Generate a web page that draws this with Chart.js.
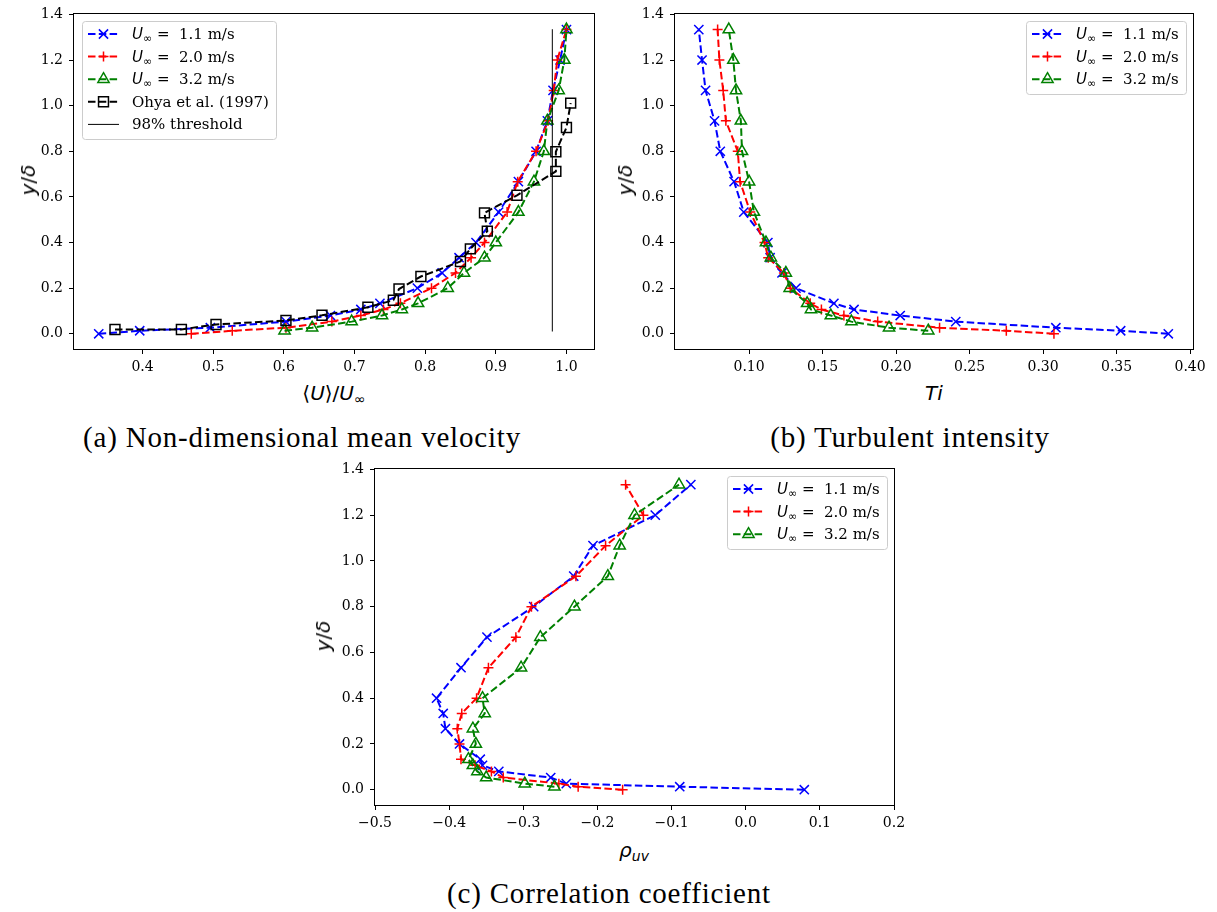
<!DOCTYPE html>
<html>
<head>
<meta charset="utf-8">
<script src="https://cdn.jsdelivr.net/npm/chart.js@4.4.0/dist/chart.umd.min.js"></script>
<style>
  body { margin: 0; background: #fff; }
  #fig { position: relative; width: 1217px; height: 912px; overflow: hidden; background: #fff; }
  canvas { position: absolute; }
  .lbl { position: absolute; font-family: "DejaVu Sans"; font-size: 20px; white-space: nowrap; transform: translate(-50%, -50%); }
  .ylbl { transform: translate(-50%, -50%) rotate(-90deg); }
  .cap { position: absolute; font-family: "Liberation Serif"; font-size: 29px; letter-spacing: 0.8px; white-space: nowrap; transform: translate(-50%, -50%); }
  .lbl i { font-style: italic; }
  .lbl sub { font-size: 70%; vertical-align: -0.3em; line-height: 0; }
</style>
</head>
<body>
<div id="fig">
  <canvas id="chartA" width="610" height="380" style="left:0;top:0"></canvas>
  <canvas id="chartB" width="607" height="380" style="left:610px;top:0"></canvas>
  <canvas id="chartC" width="620" height="380" style="left:300px;top:455px"></canvas>

  <div class="lbl" style="left:334px;top:393px">⟨<i>U</i>⟩/<i>U</i><sub>∞</sub></div>
  <div class="lbl ylbl" style="left:28px;top:180px"><i>y</i>/<i>δ</i></div>
  <div class="lbl" style="left:934px;top:393px"><i>Ti</i></div>
  <div class="lbl ylbl" style="left:625px;top:180px"><i>y</i>/<i>δ</i></div>
  <div class="lbl" style="left:634px;top:850px"><i>ρ</i><sub><i>uv</i></sub></div>
  <div class="lbl ylbl" style="left:323px;top:636px"><i>y</i>/<i>δ</i></div>

  <div class="cap" style="left:302px;top:437px">(a) Non-dimensional mean velocity</div>
  <div class="cap" style="left:910px;top:437px">(b) Turbulent intensity</div>
  <div class="cap" style="left:609px;top:893px">(c) Correlation coefficient</div>
</div>
<script>
// measurement heights y/delta (all runs), the 3.2 m/s run has no wall point
const Y_LEVELS = [0, 0.0133, 0.0267, 0.0533, 0.08, 0.1067, 0.1333, 0.2, 0.2667, 0.3333, 0.4, 0.5333, 0.6667, 0.8, 0.9333, 1.0667, 1.2, 1.3333];
const Y_LEVELS_32 = [0.0133, 0.0267, 0.0533, 0.08, 0.1067, 0.1333, 0.2, 0.2667, 0.3333, 0.4, 0.5333, 0.6667, 0.8, 0.9333, 1.0667, 1.2, 1.3333];
const SPEEDS = ['1.1', '2.0', '3.2'];

// (a) mean velocity <U>/U_inf
const U_11 = [0.338, 0.396, 0.496, 0.603, 0.666, 0.709, 0.736, 0.789, 0.824, 0.848, 0.872, 0.904, 0.932, 0.957, 0.973, 0.981, 0.991, 1.0];
const U_20 = [0.469, 0.527, 0.603, 0.668, 0.709, 0.741, 0.765, 0.809, 0.843, 0.865, 0.884, 0.916, 0.931, 0.957, 0.974, 0.982, 0.987, 1.0];
const U_32 = [0.601, 0.640, 0.696, 0.739, 0.767, 0.790, 0.832, 0.855, 0.884, 0.900, 0.932, 0.954, 0.968, 0.973, 0.989, 0.997, 1.0];
const OHYA_X = [0.361, 0.455, 0.504, 0.603, 0.654, 0.719, 0.755, 0.763, 0.794, 0.850, 0.864, 0.888, 0.884, 0.930, 0.985, 0.985, 1.0, 1.006];
const OHYA_Y = [0.019, 0.019, 0.041, 0.058, 0.081, 0.116, 0.147, 0.196, 0.251, 0.317, 0.372, 0.450, 0.530, 0.607, 0.712, 0.798, 0.904, 1.011];
const THRESH_X = [0.98, 0.98];
const THRESH_Y = [0.01, 1.335];

// (b) turbulent intensity
const TI_11 = [0.3852, 0.3528, 0.3087, 0.2406, 0.2028, 0.1714, 0.1577, 0.1319, 0.1224, 0.1143, 0.1128, 0.0964, 0.0898, 0.0804, 0.0765, 0.0704, 0.068, 0.0658];
const TI_20 = [0.3074, 0.275, 0.2296, 0.1875, 0.1645, 0.1492, 0.1416, 0.128, 0.1237, 0.113, 0.1105, 0.1008, 0.0939, 0.0923, 0.0842, 0.0824, 0.0798, 0.0786];
const TI_32 = [0.2219, 0.1952, 0.1696, 0.1556, 0.1421, 0.1395, 0.1276, 0.125, 0.1148, 0.1115, 0.1033, 0.1, 0.0952, 0.0944, 0.0911, 0.0893, 0.0862];

// (c) correlation coefficient rho_uv
const RHO_11 = [0.079, -0.089, -0.242, -0.263, -0.333, -0.355, -0.358, -0.386, -0.405, -0.408, -0.417, -0.384, -0.349, -0.286, -0.232, -0.206, -0.122, -0.074];
const RHO_20 = [-0.166, -0.226, -0.252, -0.327, -0.343, -0.365, -0.384, -0.386, -0.389, -0.383, -0.363, -0.347, -0.310, -0.289, -0.229, -0.189, -0.138, -0.162];
const RHO_32 = [-0.258, -0.298, -0.350, -0.362, -0.368, -0.374, -0.364, -0.368, -0.352, -0.355, -0.303, -0.277, -0.231, -0.186, -0.170, -0.150, -0.090];

// tick labels
const Y_TICKS = [0, 0.2, 0.4, 0.6, 0.8, 1.0, 1.2, 1.4];
const X_TICKS_A = [0.4, 0.5, 0.6, 0.7, 0.8, 0.9, 1.0];
const X_TICKS_B = [0.10, 0.15, 0.20, 0.25, 0.30, 0.35, 0.40];
const X_TICKS_C = [-0.5, -0.4, -0.3, -0.2, -0.1, 0.0, 0.1, 0.2];

Chart.defaults.color = '#000';
Chart.defaults.font.family = '"DejaVu Serif"';
Chart.defaults.font.size = 14;

var TICK_FONT = { family: '"DejaVu Serif"', size: 14 };
var LEG_PX = 15;
var BLUE = '#0000ff', RED = '#ff0000', GREEN = '#008000', BLACK = '#000000';
var NONE = 'rgba(0,0,0,0)';

function pts(xs, ys) {
    return xs.map(function (x, i) { return { x: x, y: ys[i] }; });
}

// matplotlib-like series styles
var STYLE = {
    b: { color: BLUE, pointStyle: 'crossRot', radius: 6.5 },
    r: { color: RED, pointStyle: 'cross', radius: 5 },
    g: { color: GREEN, pointStyle: 'triangle', radius: 6.5 },
    k: { color: BLACK, pointStyle: 'rect', radius: 7 }
};

function series(data, st, order) {
    return {
        data: data,
        borderColor: st.color,
        borderWidth: 2,
        borderDash: [7.5, 3.3],
        pointStyle: st.pointStyle,
        pointRadius: st.radius,
        pointBorderWidth: 1.5,
        pointBorderColor: st.color,
        pointBackgroundColor: NONE,
        tension: 0,
        fill: false,
        order: order
    };
}

function fmt(dec) {
    return function (v) { return v.toFixed(dec).replace('-', '\u2212'); };
}

// full box round the axes
var framePlugin = {
    id: 'frame',
    afterDraw: function (chart) {
        var a = chart.chartArea, ctx = chart.ctx;
        ctx.save();
        ctx.strokeStyle = '#000';
        ctx.lineWidth = 1;
        ctx.strokeRect(Math.round(a.left) - 0.5, Math.round(a.top) - 0.5,
            Math.round(a.right - a.left) + 1, Math.round(a.bottom - a.top) + 1);
        ctx.restore();
    }
};

function speedParts(s) {
    return [
        { t: 'U', f: 'italic ' + LEG_PX + 'px "DejaVu Sans"', dy: 0 },
        { t: '\u221e', f: '11px "DejaVu Sans"', dy: 3 },
        { t: ' = ', f: LEG_PX + 'px "DejaVu Sans"', dy: 0 },
        { t: ' ' + s + ' m/s', f: LEG_PX + 'px "DejaVu Serif"', dy: 0 }
    ];
}

function partsWidth(ctx, parts) {
    var w = 0;
    parts.forEach(function (p) { ctx.font = p.f; w += ctx.measureText(p.t).width; });
    return w;
}

// legend drawn like matplotlib: dashed handle with marker in the middle
var legendPlugin = {
    id: 'mplLegend',
    afterDraw: function (chart, args, opts) {
        var ctx = chart.ctx, a = chart.chartArea, items = opts.items;
        ctx.save();
        var tw = Math.max.apply(null, items.map(function (it) { return partsWidth(ctx, it.parts); }));
        var rowH = 22.6;
        var boxW = Math.round(6 + 31 + 13 + tw + 7);
        var boxH = Math.round(13 + (items.length - 1) * rowH + 15);
        var x0 = opts.loc === 'left' ? Math.round(a.left) + 8 : Math.round(a.right) - 7 - boxW;
        var y0 = Math.round(a.top) + 7;
        ctx.beginPath();
        ctx.roundRect(x0 + 0.5, y0 + 0.5, boxW, boxH, 3);
        ctx.fillStyle = 'rgba(255,255,255,0.8)';
        ctx.fill();
        ctx.strokeStyle = '#cccccc';
        ctx.lineWidth = 1;
        ctx.stroke();
        items.forEach(function (it, i) {
            var cy = y0 + 13 + i * rowH;
            ctx.beginPath();
            ctx.setLineDash(it.dash ? [7.5, 3.3] : []);
            ctx.strokeStyle = it.color;
            ctx.lineWidth = it.lw;
            ctx.moveTo(x0 + 6, cy);
            ctx.lineTo(x0 + 37, cy);
            ctx.stroke();
            ctx.setLineDash([]);
            if (it.st) {
                ctx.fillStyle = NONE;
                ctx.strokeStyle = it.color;
                ctx.lineWidth = 1.5;
                Chart.helpers.drawPoint(ctx, { pointStyle: it.st.pointStyle, radius: it.st.radius, rotation: 0, borderWidth: 1.5 }, x0 + 21.5, cy);
            }
            var tx = x0 + 50;
            ctx.fillStyle = '#000';
            ctx.textBaseline = 'alphabetic';
            it.parts.forEach(function (p) {
                ctx.font = p.f;
                ctx.fillText(p.t, tx, cy + 5 + p.dy);
                tx += ctx.measureText(p.t).width;
            });
        });
        ctx.restore();
    }
};

function speedItems() {
    return [
        { parts: speedParts(SPEEDS[0]), color: BLUE, st: STYLE.b, dash: true, lw: 2 },
        { parts: speedParts(SPEEDS[1]), color: RED, st: STYLE.r, dash: true, lw: 2 },
        { parts: speedParts(SPEEDS[2]), color: GREEN, st: STYLE.g, dash: true, lw: 2 }
    ];
}

function makeChart(id, c) {
    return new Chart(document.getElementById(id), {
        type: 'line',
        data: { datasets: c.datasets },
        options: {
            responsive: false,
            animation: false,
            devicePixelRatio: 1,
            layout: { padding: { left: 0, top: 12, right: c.padRight, bottom: 0 } },
            plugins: {
                legend: { display: false },
                tooltip: { enabled: false },
                mplLegend: { items: c.legend, loc: c.loc }
            },
            scales: {
                x: {
                    type: 'linear',
                    min: c.xMin,
                    max: c.xMax,
                    afterBuildTicks: function (s) { s.ticks = c.xTicks.map(function (v) { return { value: v }; }); },
                    afterFit: function (s) { s.height = c.xAxisH; },
                    ticks: { callback: fmt(c.xDec), font: TICK_FONT, color: '#000', padding: 5, maxRotation: 0, autoSkip: false },
                    grid: { drawOnChartArea: false, tickLength: 5, tickColor: '#000', tickWidth: 1 },
                    border: { display: false }
                },
                y: {
                    type: 'linear',
                    min: -0.0667,
                    max: 1.4,
                    afterBuildTicks: function (s) { s.ticks = Y_TICKS.map(function (v) { return { value: v }; }); },
                    afterFit: function (s) { s.width = c.yAxisW; },
                    ticks: { callback: fmt(1), font: TICK_FONT, color: '#000', padding: 6, autoSkip: false },
                    grid: { drawOnChartArea: false, tickLength: 5, tickColor: '#000', tickWidth: 1 },
                    border: { display: false }
                }
            }
        },
        plugins: [framePlugin, legendPlugin]
    });
}

// (a) mean velocity
var thresh = {
    data: pts(THRESH_X, THRESH_Y),
    borderColor: BLACK, borderWidth: 1, pointRadius: 0, fill: false, order: 1
};
makeChart('chartA', {
    datasets: [
        series(pts(U_11, Y_LEVELS), STYLE.b, 5),
        series(pts(U_20, Y_LEVELS), STYLE.r, 4),
        series(pts(U_32, Y_LEVELS_32), STYLE.g, 3),
        series(pts(OHYA_X, OHYA_Y), STYLE.k, 2),
        thresh
    ],
    legend: speedItems().concat([
        { parts: [{ t: 'Ohya et al. (1997)', f: LEG_PX + 'px "DejaVu Serif"', dy: 0 }], color: BLACK, st: STYLE.k, dash: true, lw: 2 },
        { parts: [{ t: '98% threshold', f: LEG_PX + 'px "DejaVu Serif"', dy: 0 }], color: BLACK, st: null, dash: false, lw: 1 }
    ]),
    loc: 'left',
    xMin: 0.303, xMax: 1.039, xTicks: X_TICKS_A, xDec: 1,
    yAxisW: 74, xAxisH: 31, padRight: 16
});

// (b) turbulent intensity
makeChart('chartB', {
    datasets: [
        series(pts(TI_11, Y_LEVELS), STYLE.b, 3),
        series(pts(TI_20, Y_LEVELS), STYLE.r, 2),
        series(pts(TI_32, Y_LEVELS_32), STYLE.g, 1)
    ],
    legend: speedItems(),
    loc: 'right',
    xMin: 0.0496, xMax: 0.402, xTicks: X_TICKS_B, xDec: 2,
    yAxisW: 65, xAxisH: 31, padRight: 24
});

// (c) correlation coefficient
makeChart('chartC', {
    datasets: [
        series(pts(RHO_11, Y_LEVELS), STYLE.b, 3),
        series(pts(RHO_20, Y_LEVELS), STYLE.r, 2),
        series(pts(RHO_32, Y_LEVELS_32), STYLE.g, 1)
    ],
    legend: speedItems(),
    loc: 'right',
    xMin: -0.5, xMax: 0.2, xTicks: X_TICKS_C, xDec: 1,
    yAxisW: 75, xAxisH: 30, padRight: 26
});
</script>
</body>
</html>
